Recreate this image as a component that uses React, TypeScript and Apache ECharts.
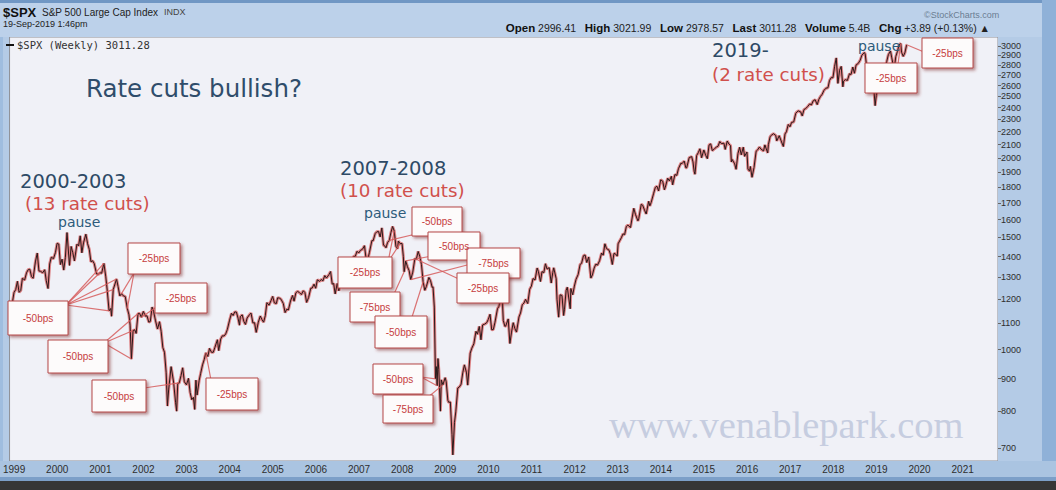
import React, { useEffect, useRef } from "react";
import * as echarts from "echarts";

// ---------- DATA ----------
// S&P 500 closes (approx. semi-monthly)
const spx: [string, number][] = [
  ["1998-11-20", 1130], ["1998-11-27", 1192], ["1998-12-11", 1166], ["1998-12-31", 1229],
  ["1999-01-15", 1243], ["1999-01-29", 1280], ["1999-02-12", 1230], ["1999-02-26", 1238], ["1999-03-12", 1294], ["1999-03-31", 1286],
  ["1999-04-16", 1320], ["1999-04-30", 1335], ["1999-05-14", 1337], ["1999-05-28", 1302], ["1999-06-11", 1294], ["1999-06-30", 1373],
  ["1999-07-16", 1418], ["1999-07-30", 1329], ["1999-08-13", 1327], ["1999-08-31", 1320], ["1999-09-17", 1335], ["1999-09-30", 1283],
  ["1999-10-15", 1247], ["1999-10-29", 1363], ["1999-11-12", 1397], ["1999-11-30", 1389], ["1999-12-17", 1421], ["1999-12-31", 1469],
  ["2000-01-14", 1465], ["2000-01-28", 1360], ["2000-02-11", 1387], ["2000-02-25", 1333], ["2000-03-10", 1395], ["2000-03-24", 1527],
  ["2000-04-14", 1356], ["2000-04-28", 1452], ["2000-05-12", 1420], ["2000-05-26", 1378], ["2000-06-16", 1464], ["2000-06-30", 1455],
  ["2000-07-14", 1509], ["2000-07-28", 1419], ["2000-08-11", 1471], ["2000-08-31", 1518], ["2000-09-15", 1466], ["2000-09-29", 1437],
  ["2000-10-13", 1374], ["2000-10-27", 1379], ["2000-11-10", 1365], ["2000-11-30", 1315], ["2000-12-15", 1313], ["2000-12-29", 1320],
  ["2001-01-12", 1318], ["2001-01-31", 1366], ["2001-02-16", 1301], ["2001-02-28", 1240], ["2001-03-16", 1150], ["2001-03-30", 1160],
  ["2001-04-06", 1128], ["2001-04-20", 1242], ["2001-05-18", 1291], ["2001-05-31", 1256], ["2001-06-15", 1214], ["2001-06-29", 1224],
  ["2001-07-13", 1215], ["2001-07-31", 1211], ["2001-08-17", 1161], ["2001-08-31", 1134], ["2001-09-10", 1092], ["2001-09-21", 966],
  ["2001-10-05", 1071], ["2001-10-19", 1074], ["2001-10-31", 1060], ["2001-11-16", 1139], ["2001-11-30", 1139], ["2001-12-14", 1124], ["2001-12-31", 1148],
  ["2002-01-18", 1128], ["2002-01-31", 1130], ["2002-02-15", 1104], ["2002-02-28", 1107], ["2002-03-15", 1166], ["2002-03-28", 1147],
  ["2002-04-12", 1112], ["2002-04-30", 1077], ["2002-05-17", 1106], ["2002-05-31", 1067], ["2002-06-14", 1007], ["2002-06-28", 990],
  ["2002-07-12", 921], ["2002-07-23", 815], ["2002-08-02", 864], ["2002-08-23", 940], ["2002-09-13", 889], ["2002-09-30", 825],
  ["2002-10-09", 800], ["2002-10-18", 884], ["2002-10-31", 886], ["2002-11-15", 910], ["2002-11-29", 936], ["2002-12-13", 890], ["2002-12-31", 880],
  ["2003-01-17", 901], ["2003-01-31", 856], ["2003-02-14", 834], ["2003-02-28", 841], ["2003-03-11", 805], ["2003-03-21", 895],
  ["2003-03-31", 848], ["2003-04-17", 893], ["2003-04-30", 917], ["2003-05-16", 946], ["2003-05-30", 964], ["2003-06-13", 988],
  ["2003-06-30", 975], ["2003-07-14", 1004], ["2003-07-31", 990], ["2003-08-15", 990], ["2003-08-29", 1008], ["2003-09-19", 1036],
  ["2003-09-30", 996], ["2003-10-17", 1039], ["2003-10-31", 1051], ["2003-11-14", 1050], ["2003-11-28", 1058], ["2003-12-12", 1075], ["2003-12-31", 1112],
  ["2004-01-16", 1140], ["2004-01-30", 1131], ["2004-02-13", 1146], ["2004-02-27", 1145], ["2004-03-12", 1120], ["2004-03-24", 1092],
  ["2004-03-31", 1126], ["2004-04-16", 1134], ["2004-04-30", 1107], ["2004-05-14", 1095], ["2004-05-28", 1121], ["2004-06-18", 1135],
  ["2004-06-30", 1141], ["2004-07-16", 1101], ["2004-07-30", 1102], ["2004-08-13", 1064], ["2004-08-31", 1104], ["2004-09-17", 1129],
  ["2004-09-30", 1115], ["2004-10-15", 1104], ["2004-10-29", 1130], ["2004-11-12", 1185], ["2004-11-30", 1174], ["2004-12-17", 1194], ["2004-12-31", 1212],
  ["2005-01-14", 1184], ["2005-01-31", 1181], ["2005-02-11", 1206], ["2005-02-28", 1204], ["2005-03-11", 1200], ["2005-03-31", 1181],
  ["2005-04-15", 1143], ["2005-04-29", 1157], ["2005-05-13", 1154], ["2005-05-31", 1192], ["2005-06-17", 1216], ["2005-06-30", 1191],
  ["2005-07-15", 1228], ["2005-07-29", 1234], ["2005-08-12", 1230], ["2005-08-31", 1220], ["2005-09-16", 1237], ["2005-09-30", 1229],
  ["2005-10-14", 1186], ["2005-10-31", 1207], ["2005-11-18", 1248], ["2005-11-30", 1249], ["2005-12-16", 1267], ["2005-12-30", 1248],
  ["2006-01-13", 1287], ["2006-01-31", 1280], ["2006-02-17", 1289], ["2006-02-28", 1281], ["2006-03-17", 1307], ["2006-03-31", 1295],
  ["2006-04-21", 1311], ["2006-05-05", 1326], ["2006-05-19", 1267], ["2006-05-31", 1270], ["2006-06-13", 1223], ["2006-06-30", 1270],
  ["2006-07-14", 1237], ["2006-07-31", 1277], ["2006-08-18", 1302], ["2006-08-31", 1304], ["2006-09-15", 1321], ["2006-09-29", 1336],
  ["2006-10-13", 1362], ["2006-10-31", 1378], ["2006-11-17", 1401], ["2006-11-30", 1401], ["2006-12-15", 1427], ["2006-12-29", 1418],
  ["2007-01-12", 1431], ["2007-01-31", 1438], ["2007-02-16", 1456], ["2007-03-02", 1387], ["2007-03-16", 1386], ["2007-03-30", 1421],
  ["2007-04-20", 1484], ["2007-04-30", 1482], ["2007-05-18", 1522], ["2007-05-31", 1531], ["2007-06-15", 1533], ["2007-06-29", 1503],
  ["2007-07-13", 1553], ["2007-07-27", 1459], ["2007-08-10", 1453], ["2007-08-17", 1445], ["2007-08-31", 1474], ["2007-09-14", 1484],
  ["2007-09-28", 1527], ["2007-10-12", 1561], ["2007-10-26", 1536], ["2007-11-09", 1453], ["2007-11-23", 1440], ["2007-11-30", 1481],
  ["2007-12-14", 1467], ["2007-12-31", 1468],
  ["2008-01-11", 1401], ["2008-01-18", 1325], ["2008-01-31", 1378], ["2008-02-15", 1349], ["2008-02-29", 1331], ["2008-03-14", 1288],
  ["2008-03-31", 1323], ["2008-04-18", 1390], ["2008-04-30", 1386], ["2008-05-16", 1426], ["2008-05-30", 1400], ["2008-06-13", 1360],
  ["2008-06-27", 1278], ["2008-07-11", 1239], ["2008-07-25", 1257], ["2008-08-15", 1298], ["2008-08-29", 1283], ["2008-09-12", 1252],
  ["2008-09-19", 1255], ["2008-09-30", 1166], ["2008-10-10", 899], ["2008-10-17", 940], ["2008-10-24", 877], ["2008-10-31", 968],
  ["2008-11-07", 930], ["2008-11-21", 800], ["2008-11-28", 896], ["2008-12-12", 880], ["2008-12-31", 903],
  ["2009-01-09", 890], ["2009-01-23", 832], ["2009-01-30", 826], ["2009-02-13", 827], ["2009-02-27", 735], ["2009-03-06", 683],
  ["2009-03-20", 768], ["2009-03-31", 798], ["2009-04-17", 870], ["2009-04-30", 873], ["2009-05-15", 882], ["2009-05-29", 919],
  ["2009-06-12", 946], ["2009-06-30", 919], ["2009-07-10", 879], ["2009-07-31", 987], ["2009-08-14", 1005], ["2009-08-31", 1021],
  ["2009-09-18", 1068], ["2009-09-30", 1057], ["2009-10-16", 1087], ["2009-10-30", 1036], ["2009-11-13", 1093], ["2009-11-30", 1096],
  ["2009-12-18", 1102], ["2009-12-31", 1115],
  ["2010-01-15", 1136], ["2010-01-29", 1074], ["2010-02-12", 1075], ["2010-02-26", 1104], ["2010-03-19", 1159], ["2010-03-31", 1169],
  ["2010-04-23", 1217], ["2010-04-30", 1187], ["2010-05-07", 1111], ["2010-05-21", 1087], ["2010-05-28", 1089], ["2010-06-18", 1117],
  ["2010-07-02", 1022], ["2010-07-16", 1065], ["2010-07-30", 1102], ["2010-08-13", 1079], ["2010-08-27", 1065], ["2010-09-17", 1125],
  ["2010-09-30", 1141], ["2010-10-15", 1176], ["2010-10-29", 1183], ["2010-11-12", 1199], ["2010-11-30", 1181], ["2010-12-17", 1244], ["2010-12-31", 1258],
  ["2011-01-14", 1293], ["2011-01-31", 1286], ["2011-02-18", 1343], ["2011-02-28", 1327], ["2011-03-18", 1279], ["2011-03-31", 1326],
  ["2011-04-15", 1320], ["2011-04-29", 1364], ["2011-05-13", 1338], ["2011-05-31", 1345], ["2011-06-17", 1272], ["2011-06-30", 1321],
  ["2011-07-08", 1344], ["2011-07-29", 1292], ["2011-08-05", 1199], ["2011-08-19", 1124], ["2011-08-31", 1219], ["2011-09-16", 1216],
  ["2011-09-30", 1131], ["2011-10-07", 1155], ["2011-10-21", 1238], ["2011-10-31", 1253], ["2011-11-25", 1159], ["2011-11-30", 1247],
  ["2011-12-16", 1219], ["2011-12-30", 1258],
  ["2012-01-13", 1289], ["2012-01-31", 1312], ["2012-02-17", 1361], ["2012-02-29", 1366], ["2012-03-16", 1404], ["2012-03-30", 1408],
  ["2012-04-13", 1370], ["2012-04-30", 1398], ["2012-05-18", 1295], ["2012-05-31", 1310], ["2012-06-15", 1343], ["2012-06-29", 1362],
  ["2012-07-13", 1357], ["2012-07-31", 1379], ["2012-08-17", 1418], ["2012-08-31", 1407], ["2012-09-14", 1466], ["2012-09-28", 1441],
  ["2012-10-19", 1433], ["2012-10-31", 1412], ["2012-11-16", 1360], ["2012-11-30", 1416], ["2012-12-14", 1413], ["2012-12-28", 1402],
  ["2013-01-04", 1466], ["2013-01-31", 1498], ["2013-02-15", 1520], ["2013-02-28", 1515], ["2013-03-15", 1561], ["2013-03-28", 1569],
  ["2013-04-19", 1555], ["2013-04-30", 1598], ["2013-05-17", 1667], ["2013-05-31", 1631], ["2013-06-21", 1593], ["2013-06-28", 1606],
  ["2013-07-19", 1692], ["2013-07-31", 1686], ["2013-08-16", 1656], ["2013-08-30", 1633], ["2013-09-20", 1710], ["2013-09-30", 1682],
  ["2013-10-11", 1703], ["2013-10-31", 1757], ["2013-11-15", 1798], ["2013-11-29", 1806], ["2013-12-13", 1775], ["2013-12-31", 1848],
  ["2014-01-17", 1839], ["2014-01-31", 1783], ["2014-02-07", 1797], ["2014-02-28", 1859], ["2014-03-14", 1841], ["2014-03-31", 1872],
  ["2014-04-11", 1815], ["2014-04-30", 1884], ["2014-05-16", 1878], ["2014-05-30", 1924], ["2014-06-20", 1963], ["2014-06-30", 1960],
  ["2014-07-18", 1978], ["2014-07-31", 1931], ["2014-08-08", 1931], ["2014-08-29", 2003], ["2014-09-19", 2010], ["2014-09-30", 1972],
  ["2014-10-10", 1906], ["2014-10-17", 1886], ["2014-10-31", 2018], ["2014-11-14", 2039], ["2014-11-28", 2068], ["2014-12-12", 2002], ["2014-12-31", 2059],
  ["2015-01-16", 2019], ["2015-01-30", 1995], ["2015-02-13", 2096], ["2015-02-27", 2105], ["2015-03-13", 2053], ["2015-03-31", 2068],
  ["2015-04-17", 2081], ["2015-04-30", 2086], ["2015-05-15", 2123], ["2015-05-29", 2107], ["2015-06-19", 2110], ["2015-06-30", 2063],
  ["2015-07-17", 2127], ["2015-07-31", 2104], ["2015-08-14", 2092], ["2015-08-21", 1971], ["2015-08-28", 1989], ["2015-09-18", 1958],
  ["2015-09-30", 1920], ["2015-10-16", 2033], ["2015-10-30", 2079], ["2015-11-13", 2023], ["2015-11-30", 2080], ["2015-12-11", 2012], ["2015-12-31", 2044],
  ["2016-01-08", 1922], ["2016-01-22", 1907], ["2016-01-29", 1940], ["2016-02-12", 1865], ["2016-02-29", 1932], ["2016-03-18", 2050],
  ["2016-03-31", 2060], ["2016-04-15", 2081], ["2016-04-29", 2065], ["2016-05-20", 2052], ["2016-05-31", 2097], ["2016-06-24", 2037],
  ["2016-06-30", 2099], ["2016-07-15", 2162], ["2016-07-29", 2174], ["2016-08-12", 2184], ["2016-08-31", 2171], ["2016-09-09", 2128],
  ["2016-09-30", 2168], ["2016-10-14", 2133], ["2016-11-04", 2085], ["2016-11-18", 2182], ["2016-11-30", 2199], ["2016-12-16", 2258], ["2016-12-30", 2239],
  ["2017-01-13", 2275], ["2017-01-31", 2279], ["2017-02-17", 2351], ["2017-02-28", 2364], ["2017-03-10", 2372], ["2017-03-31", 2363],
  ["2017-04-13", 2329], ["2017-04-28", 2384], ["2017-05-12", 2391], ["2017-05-31", 2412], ["2017-06-16", 2433], ["2017-06-30", 2423],
  ["2017-07-14", 2459], ["2017-07-31", 2470], ["2017-08-18", 2426], ["2017-08-31", 2472], ["2017-09-15", 2500], ["2017-09-29", 2519],
  ["2017-10-13", 2553], ["2017-10-31", 2575], ["2017-11-17", 2579], ["2017-11-30", 2648], ["2017-12-15", 2676], ["2017-12-29", 2674],
  ["2018-01-12", 2786], ["2018-01-26", 2873], ["2018-02-09", 2620], ["2018-02-23", 2747], ["2018-03-09", 2786], ["2018-03-23", 2588],
  ["2018-03-29", 2641], ["2018-04-13", 2656], ["2018-04-30", 2648], ["2018-05-18", 2713], ["2018-05-31", 2705], ["2018-06-15", 2780],
  ["2018-06-29", 2718], ["2018-07-13", 2801], ["2018-07-31", 2816], ["2018-08-17", 2850], ["2018-08-31", 2902], ["2018-09-21", 2930],
  ["2018-09-28", 2914], ["2018-10-12", 2767], ["2018-10-26", 2659], ["2018-11-09", 2781], ["2018-11-23", 2633], ["2018-11-30", 2760],
  ["2018-12-07", 2633], ["2018-12-21", 2417], ["2018-12-31", 2507],
  ["2019-01-11", 2596], ["2019-01-31", 2704], ["2019-02-15", 2776], ["2019-02-28", 2784], ["2019-03-08", 2743], ["2019-03-29", 2834],
  ["2019-04-12", 2907], ["2019-04-30", 2946], ["2019-05-10", 2881], ["2019-05-31", 2752], ["2019-06-14", 2887], ["2019-06-28", 2942],
  ["2019-07-12", 3014], ["2019-07-26", 3026], ["2019-08-02", 2932], ["2019-08-16", 2889], ["2019-08-30", 2926], ["2019-09-13", 3007],
  ["2019-09-19", 3011],
];

const yTickValues = [700, 800, 900, 1000, 1100, 1200, 1300, 1400, 1500, 1600, 1700, 1800, 1900, 2000, 2100, 2200, 2300, 2400, 2500, 2600, 2700, 2800, 2900, 3000];
const xYearLabels = [1999, 2000, 2001, 2002, 2003, 2004, 2005, 2006, 2007, 2008, 2009, 2010, 2011, 2012, 2013, 2014, 2015, 2016, 2017, 2018, 2019, 2020, 2021];

// rate-cut callouts: label and the dates on the line they point to
const cutLabels = [
  "-50bps", "-25bps", "-25bps", "-50bps", "-50bps", "-25bps",
  "-50bps", "-50bps", "-75bps", "-25bps", "-25bps", "-75bps", "-50bps", "-50bps", "-75bps",
  "-25bps", "-25bps",
];
const cutTargets: string[][] = [
  ["2000-12-29", "2001-01-31", "2001-03-16", "2001-04-20", "2001-05-18"],
  ["2001-06-29", "2001-08-17"],
  ["2001-12-14"],
  ["2001-09-21", "2001-10-05", "2001-11-16"],
  ["2002-10-31"],
  ["2003-06-13"],
  ["2007-09-14"],
  ["2008-01-31"],
  ["2008-03-14"],
  ["2008-04-30"],
  ["2007-10-26", "2007-12-14"],
  ["2008-01-18"],
  ["2008-06-27"],
  ["2008-10-10", "2008-10-24"],
  ["2008-12-12"],
  ["2019-07-26"],
  ["2019-09-19"],
];

const headerTitle = "$SPX";
const headerName = "S&P 500 Large Cap Index";
const headerExch = "INDX";
const headerDate = "19-Sep-2019 1:46pm";
const quoteLabels = ["Open", "High", "Low", "Last", "Volume", "Chg"];
const quoteValues = ["2996.41", "3021.99", "2978.57", "3011.28", "5.4B", "+3.89 (+0.13%) ▲"];
const legendText = "$SPX (Weekly) 3011.28";
const mainTitle = "Rate cuts bullish?";
const periodTitles = ["2000-2003", "2007-2008", "2019-"];
const periodCuts = ["(13 rate cuts)", "(10 rate cuts)", "(2 rate cuts)"];
const pauseText = "pause";
const watermark = "www.venablepark.com";
const credit = "©StockCharts.com";

// ---------- LAYOUT ----------
// [x, y, w, h, anchorX, anchorY]
const boxLayout: number[][] = [
  [8, 301, 60, 34, 66, 305],
  [128, 243, 52, 31, 134, 273],
  [155, 283, 52, 30, 158, 306],
  [48, 340, 60, 33, 104, 343],
  [92, 380, 54, 32, 144, 388],
  [206, 378, 52, 32, 211, 380],
  [412, 207, 50, 29, 416, 234],
  [428, 232, 52, 28, 432, 256],
  [467, 248, 53, 30, 471, 264],
  [457, 273, 52, 30, 461, 280],
  [338, 257, 54, 31, 388, 262],
  [350, 292, 50, 30, 394, 294],
  [375, 316, 52, 32, 412, 317],
  [373, 364, 50, 30, 421, 377],
  [383, 395, 50, 28, 427, 398],
  [865, 63, 52, 30, 898, 64],
  [922, 38, 51, 30, 924, 52],
];
const periodPos = [[20, 181, 25, 203, 58, 222], [340, 168, 340, 190, 364, 213], [712, 50, 712, 74, 858, 46]];

const X_MIN = 1998.894;
const X_MAX = 2021.82;
const Y_MIN = 668;
const Y_MAX = 3099;

function toYear(d: string): number {
  const [y, m, dd] = d.split("-").map(Number);
  const s = Date.UTC(y, 0, 1);
  const e = Date.UTC(y + 1, 0, 1);
  return y + (Date.UTC(y, m - 1, dd) - s) / (e - s);
}
function valueAt(d: string): number {
  const hit = spx.find((p) => p[0] === d);
  if (hit) return hit[1];
  const t = toYear(d);
  let best = spx[0];
  for (const p of spx) if (Math.abs(toYear(p[0]) - t) < Math.abs(toYear(best[0]) - t)) best = p;
  return best[1];
}

const SANS = "DejaVu Sans";
const ARIAL = "Liberation Sans, Arial";

export default function App() {
  const ref = useRef<HTMLDivElement>(null);
  useEffect(() => {
    if (!ref.current) return;
    const chart = echarts.init(ref.current, undefined, { renderer: "svg" });
    const lineData = spx.map(([d, v]) => [toYear(d), Math.log10(v)]);

    const bg: any[] = [
      { type: "rect", shape: { x: 0, y: 0, width: 1056, height: 37 }, style: { fill: "#bcd1ea" } },
      { type: "rect", shape: { x: 0, y: 0, width: 1056, height: 3 }, style: { fill: "#7097c4" } },
      { type: "rect", shape: { x: 998, y: 37, width: 58, height: 425 }, style: { fill: "#b4cbe6" } },
      { type: "rect", shape: { x: 1042, y: 0, width: 14, height: 480 }, style: { fill: "#8fb1d8" } },
      { type: "rect", shape: { x: 0, y: 461, width: 1056, height: 17 }, style: { fill: "#aac4e1" } },
      { type: "rect", shape: { x: 0, y: 477, width: 1056, height: 4 }, style: { fill: "#7c9fc8" } },
      { type: "rect", shape: { x: 0, y: 481, width: 1056, height: 9 }, style: { fill: "#363636" } },
      { type: "rect", shape: { x: 0, y: 37, width: 3, height: 424 }, style: { fill: "#9fbddf" } },
    ];

    const option: any = {
      animation: false,
      backgroundColor: "#b4cbe6",
      grid: { left: 3, right: 58, top: 37, bottom: 29, show: true, backgroundColor: "#f0f1f7", borderColor: "#8d8f96", borderWidth: 1 },
      xAxis: {
        type: "value",
        min: X_MIN,
        max: X_MAX,
        axisLine: { show: false },
        axisTick: { show: false },
        splitLine: { show: false },
        axisLabel: {
          customValues: xYearLabels,
          formatter: (v: number) => String(Math.round(v)),
          color: "#2e2e2e",
          fontSize: 10,
          fontFamily: ARIAL,
          margin: 3,
          hideOverlap: false,
        },
      },
      yAxis: {
        type: "value",
        position: "right",
        min: Math.log10(Y_MIN),
        max: Math.log10(Y_MAX),
        axisLine: { show: false },
        splitLine: { show: false },
        axisTick: { show: true, customValues: yTickValues.map((v) => Math.log10(v)), length: 3, lineStyle: { color: "#666" } },
        axisLabel: {
          customValues: yTickValues.map((v) => Math.log10(v)),
          formatter: (v: number) => String(Math.round(Math.pow(10, v))),
          color: "#2e2e2e",
          fontSize: 9,
          fontFamily: ARIAL,
          margin: 3,
          hideOverlap: false,
          showMinLabel: true,
          showMaxLabel: true,
        },
      },
      series: [
        {
          type: "line",
          data: lineData,
          symbol: "none",
          silent: true,
          z: 2,
          lineStyle: { color: "#d23a3a", width: 3, opacity: 0.6 },
        },
        {
          type: "line",
          data: lineData,
          symbol: "none",
          silent: true,
          z: 3,
          lineStyle: { color: "#2a1a1a", width: 1 },
        },
      ],
      graphic: { elements: bg },
    };
    chart.setOption(option);

    const elems: any[] = [...bg];
    const txt = (x: number, y: number, text: string, st: any, z = 120) => ({
      type: "text",
      x,
      y,
      z,
      silent: true,
      style: { text, align: "left", textAlign: "left", verticalAlign: "middle", textVerticalAlign: "middle", ...st },
    });

    // header
    elems.push(txt(3, 12, headerTitle, { fill: "#111", fontSize: 13, fontWeight: "bold", fontFamily: ARIAL }));
    elems.push(txt(42, 12, headerName, { fill: "#222", fontSize: 10, fontFamily: ARIAL }));
    elems.push(txt(164, 12, headerExch, { fill: "#444", fontSize: 9, fontFamily: ARIAL }));
    elems.push(txt(3, 24, headerDate, { fill: "#222", fontSize: 9, fontFamily: ARIAL }));
    const quoteRich = quoteLabels.map((l, i) => `{b|${l}} ${quoteValues[i]}`).join("   ");
    elems.push({
      type: "text",
      x: 990,
      y: 28,
      z: 120,
      silent: true,
      style: {
        text: quoteRich,
        align: "right",
        textAlign: "right",
        verticalAlign: "middle",
        textVerticalAlign: "middle",
        fill: "#222",
        fontSize: 10.5,
        fontFamily: ARIAL,
        rich: { b: { fontWeight: "bold", fontSize: 11.5, fill: "#111", fontFamily: ARIAL } },
      },
    });
    elems.push(txt(924, 15, credit, { fill: "#6b7d92", fontSize: 9, fontFamily: ARIAL }));

    // legend
    elems.push({ type: "line", z: 120, silent: true, shape: { x1: 6, y1: 45, x2: 14, y2: 45 }, style: { stroke: "#111", lineWidth: 2 } });
    elems.push(txt(17, 45, legendText, { fill: "#333", fontSize: 10.5, fontFamily: "DejaVu Sans Mono" }));

    // watermark
    elems.push(txt(609, 425, watermark, { fill: "#c6cde0", fontSize: 38.5, fontFamily: "Liberation Serif, DejaVu Serif" }, 10));

    // titles
    elems.push(txt(86, 88, mainTitle, { fill: "#2f4d6b", fontSize: 24.5, fontFamily: SANS }));
    periodTitles.forEach((t, i) => {
      const p = periodPos[i];
      elems.push(txt(p[0], p[1], t, { fill: "#2e4a66", fontSize: 19.5, fontFamily: SANS }));
      elems.push(txt(p[2], p[3], periodCuts[i], { fill: "#d0504c", fontSize: 18.3, fontFamily: SANS }));
      elems.push(txt(p[4], p[5], pauseText, { fill: "#2d5b7b", fontSize: 14, fontFamily: SANS }));
    });

    // callouts
    cutLabels.forEach((lab, i) => {
      const [bx, by, bw, bh, ax, ay] = boxLayout[i];
      cutTargets[i].forEach((d) => {
        const p = chart.convertToPixel({ gridIndex: 0 } as any, [toYear(d), Math.log10(valueAt(d))]) as number[];
        elems.push({
          type: "line",
          z: 100,
          silent: true,
          shape: { x1: ax, y1: ay, x2: p[0], y2: p[1] },
          style: { stroke: "#d65c5c", lineWidth: 1.2, opacity: 0.85 },
        });
      });
      elems.push({
        type: "rect",
        z: 110,
        silent: true,
        shape: { x: bx, y: by, width: bw, height: bh },
        style: {
          fill: "#fdfbfb",
          stroke: "#b54848",
          lineWidth: 1,
          shadowBlur: 3,
          shadowColor: "rgba(130,50,50,0.55)",
          shadowOffsetX: 2,
          shadowOffsetY: 2,
        },
      });
      elems.push({
        type: "text",
        x: bx + bw / 2,
        y: by + bh / 2,
        z: 111,
        silent: true,
        style: {
          text: lab,
          align: "center",
          textAlign: "center",
          verticalAlign: "middle",
          textVerticalAlign: "middle",
          fill: "#c63d3d",
          fontSize: 10,
          fontFamily: ARIAL,
        },
      });
    });

    chart.setOption({ graphic: { elements: elems } }, { replaceMerge: ["graphic"] } as any);
    return () => chart.dispose();
  }, []);
  return <div ref={ref} style={{ position: "fixed", left: 0, top: 0, width: 1056, height: 490 }} />;
}
